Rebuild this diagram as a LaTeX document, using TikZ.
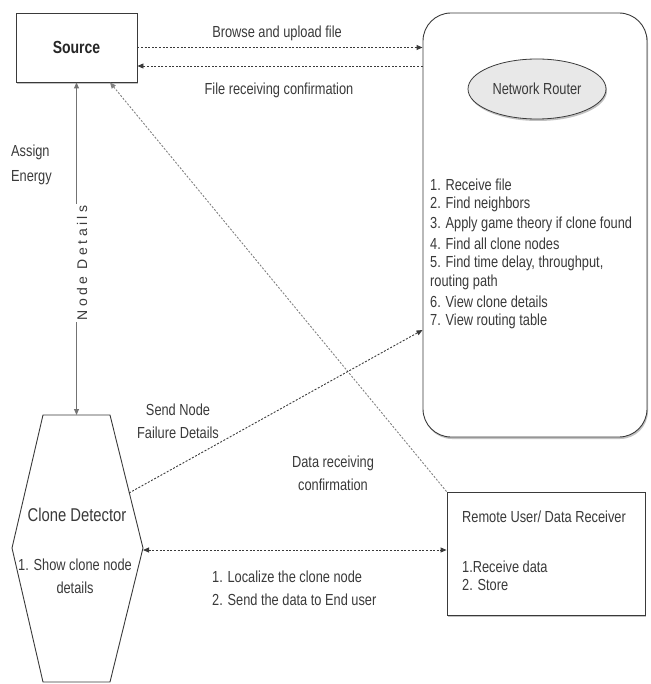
\documentclass[tikz,border=0pt]{standalone}
\usepackage{fontspec}
\setmainfont[FakeStretch=0.8]{Liberation Sans}
\newfontfamily\spacedfont[LetterSpace=25]{Liberation Sans}
\usetikzlibrary{arrows.meta,shapes.geometric,shadows}
\definecolor{ink}{HTML}{3A3A3A}
\begin{document}
\begin{tikzpicture}[x=1pt,y=-1pt,
 box/.style={draw=ink, line width=0.9pt, fill=white},
 shad/.style={drop shadow={shadow xshift=1pt,shadow yshift=-2pt,fill=black!40,opacity=0.6}},
 lbl/.style={font=\fontsize{16}{23}\selectfont, text=ink, inner sep=0pt, align=center},
 li/.style={lbl, anchor=west},
 dotline/.style={dash pattern=on 2pt off 1.6pt, line width=0.9pt, draw=ink},
 tip/.style={-{Triangle[length=6pt,width=5pt]}},
]
\useasboundingbox (0,0) rectangle (650,684);
% Source
\node[box,shad,minimum width=121pt,minimum height=69pt,font=\fontsize{17.5}{19}\selectfont\bfseries,text=black!85] (src) at (76.5,47.5) {Source};
% Router
\node[box,shad,rounded corners=28pt,minimum width=224pt,minimum height=424pt] (rt) at (535,225) {};
\node[ellipse,draw=ink,line width=0.8pt,fill=black!9,shad,minimum width=138pt,minimum height=60pt,lbl] (nr) at (537,89) {Network Router};
\node[li] (i1) at (430,185) {1. Receive file};
\node[li] (i2) at (430,204.5) {2. Find neighbors};
\node[li] (i3) at (430,224) {3. Apply game theory if clone found};
\node[li] (i4) at (430,243.5) {4. Find all clone nodes};
\node[li] (i5) at (430,263) {5. Find time delay, throughput,};
\node[li] (i6) at (430,282.5) {routing path};
\node[li] (i7) at (430,302) {6. View clone details};
\node[li] (i8) at (430,321.5) {7. View routing table};
% Clone detector hexagon
\draw[box] (43,415) -- (110,415) -- (143,548) -- (110,682) -- (43,682) -- (12,548) -- cycle;
\coordinate (cdTop) at (76.5,415);
\coordinate (cdR) at (143,550);
\coordinate (cdS) at (129,493);
\node[lbl,font=\fontsize{18.5}{20}\selectfont] (cd) at (77,515) {Clone Detector};
\node[lbl] (cdl) at (75,576) {1. Show clone node\\details};
% Remote user
\node[box,shad,minimum width=198pt,minimum height=123pt] (ru) at (546,553.5) {};
\node[li] (rut) at (462,517) {Remote User/ Data Receiver};
\node[li] (ru1) at (462,567) {1.Receive data};
\node[li] (ru2) at (462,585) {2. Store};
% connectors
\draw[dotline,tip] (src.east) -- (src.east -| rt.west);
\draw[dotline,tip] (rt.west |- 0,66) -- (src.east |- 0,66);
\draw[line width=0.9pt,draw=black!55,{Triangle[length=6pt,width=5pt]}-{Triangle[length=6pt,width=5pt]}] (src.south) -- (cdTop);
\draw[dotline,draw=black!50,tip] (ru.north west) -- (src.south -| 110,0);
\draw[dotline,tip] (cdS) -- (rt.west |- 0,330);
\draw[dotline,{Triangle[length=6pt,width=5pt]}-{Triangle[length=6pt,width=5pt]}] (cdR) -- (ru.west |- cdR);
% labels
\node[lbl] (l1) at (277,33) {Browse and upload file};
\node[lbl] (l2) at (279,90) {File receiving confirmation};
\node[lbl,align=left,anchor=west,font=\fontsize{16}{25}\selectfont] (l3) at (11,165) {Assign\\Energy};
\node[lbl,rotate=90,fill=white,inner sep=1.5pt,font=\spacedfont\fontsize{14}{16}\selectfont] (l4) at (82,263) {Node Details};
\node[lbl] (l5) at (178,421.5) {Send Node\\Failure Details};
\node[lbl] (l6) at (333,473.5) {Data receiving\\confirmation};
\node[lbl,anchor=west,align=left] (l7) at (212,588) {1. Localize the clone node\\2. Send the data to End user};
\end{tikzpicture}
\end{document}
